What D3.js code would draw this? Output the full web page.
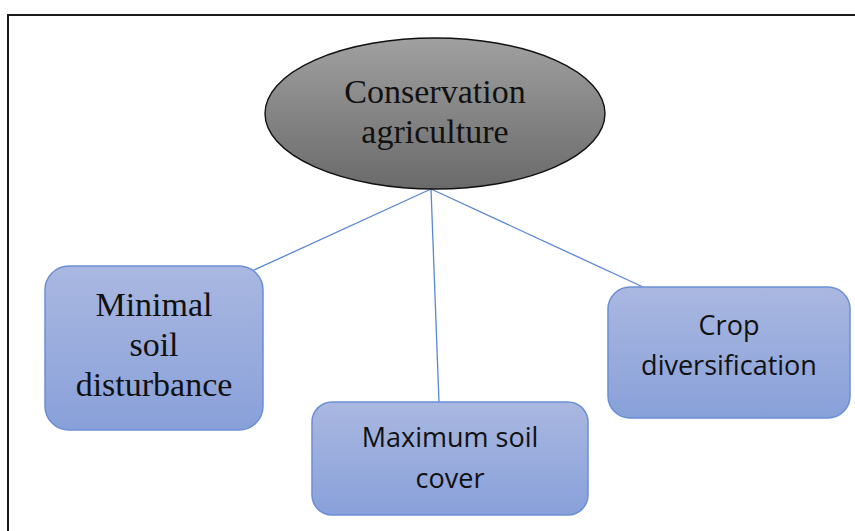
<!DOCTYPE html>
<html>
<head>
<meta charset="utf-8">
<script src="https://cdn.jsdelivr.net/npm/d3@7"></script>
<style>
  html, body { margin: 0; padding: 0; background: #fff; }
  svg { display: block; }
</style>
</head>
<body>
<svg id="chart" width="855" height="531"></svg>
<script>
// diagram content
const rootLabel = ["Conservation", "agriculture"];
const childKeys = ["soil", "cover", "crops"];
const childLabels = [
    ["Minimal", "soil", "disturbance"],
    ["Maximum soil", "cover"],
    ["Crop", "diversification"]
];
const childFonts = ["serif", "sans", "sans"];

const svg = d3.select("#chart");
const x = d3.scaleIdentity().domain([0, 855]);
const y = d3.scaleIdentity().domain([0, 531]);

// layout (pixels); firstBase = baseline of the first text line
const root = { cx: 435, cy: 113.5, rx: 170, ry: 75.5, joint: [431, 189] };
const boxes = {
    soil:  { x0: 45,  y0: 266, x1: 263, y1: 430, r: 24, end: [252, 271], firstBase: 316, lh: 40 },
    cover: { x0: 312, y0: 402, x1: 588, y1: 515, r: 20, end: [439, 402], firstBase: 447, lh: 41 },
    crops: { x0: 608, y0: 287, x1: 850, y1: 418, r: 22, end: [643, 287], firstBase: 335, lh: 40 }
};

const defs = svg.append("defs");
const gBlue = defs.append("linearGradient").attr("id", "gBlue")
    .attr("x1", 0).attr("y1", 0).attr("x2", 0).attr("y2", 1);
gBlue.append("stop").attr("offset", "0%").attr("stop-color", "#aab8e1");
gBlue.append("stop").attr("offset", "100%").attr("stop-color", "#88a0d9");
const gGrey = defs.append("linearGradient").attr("id", "gGrey")
    .attr("x1", 0).attr("y1", 0).attr("x2", 0).attr("y2", 1);
gGrey.append("stop").attr("offset", "0%").attr("stop-color", "#a0a0a0");
gGrey.append("stop").attr("offset", "100%").attr("stop-color", "#6a6a6a");

// outer frame (runs off the right and bottom edge)
svg.append("rect")
    .attr("x", x(8)).attr("y", y(15))
    .attr("width", 900).attr("height", 600)
    .attr("fill", "none").attr("stroke", "#1a1a1a").attr("stroke-width", 2);

// connectors
svg.selectAll(".link")
    .data(childKeys)
    .enter().append("line")
    .attr("class", "link")
    .attr("x1", x(root.joint[0])).attr("y1", y(root.joint[1]))
    .attr("x2", k => x(boxes[k].end[0])).attr("y2", k => y(boxes[k].end[1]))
    .attr("stroke", "#5a86d6").attr("stroke-width", 1.3);

// root ellipse
svg.append("ellipse")
    .attr("cx", x(root.cx)).attr("cy", y(root.cy))
    .attr("rx", root.rx).attr("ry", root.ry)
    .attr("fill", "url(#gGrey)").attr("stroke", "#111").attr("stroke-width", 1.4);

svg.append("text")
    .attr("text-anchor", "middle")
    .attr("font-family", "'Liberation Serif', 'DejaVu Serif', serif")
    .attr("font-size", 34).attr("fill", "#111")
    .selectAll("tspan")
    .data(rootLabel)
    .enter().append("tspan")
    .attr("x", x(root.cx))
    .attr("y", (d, i) => y(103 + i * 40))
    .text(d => d);

// child boxes
const nodes = svg.selectAll(".node")
    .data(childKeys)
    .enter().append("g")
    .attr("class", "node");

nodes.append("rect")
    .attr("x", k => x(boxes[k].x0)).attr("y", k => y(boxes[k].y0))
    .attr("width", k => boxes[k].x1 - boxes[k].x0)
    .attr("height", k => boxes[k].y1 - boxes[k].y0)
    .attr("rx", k => boxes[k].r).attr("ry", k => boxes[k].r)
    .attr("fill", "url(#gBlue)").attr("stroke", "#6b8fd6").attr("stroke-width", 1.5);

nodes.each(function (k, i) {
    const b = boxes[k];
    const serif = childFonts[i] === "serif";
    d3.select(this).append("text")
        .attr("text-anchor", "middle")
        .attr("font-family", serif ? "'Liberation Serif', serif" : "'Open Sans', 'Liberation Sans', sans-serif")
        .attr("font-size", serif ? 34 : 27)
        .attr("fill", "#111")
        .selectAll("tspan")
        .data(childLabels[i])
        .enter().append("tspan")
        .attr("x", x((b.x0 + b.x1) / 2))
        .attr("y", (d, j) => y(b.firstBase + j * b.lh))
        .text(d => d);
});
</script>
</body>
</html>
